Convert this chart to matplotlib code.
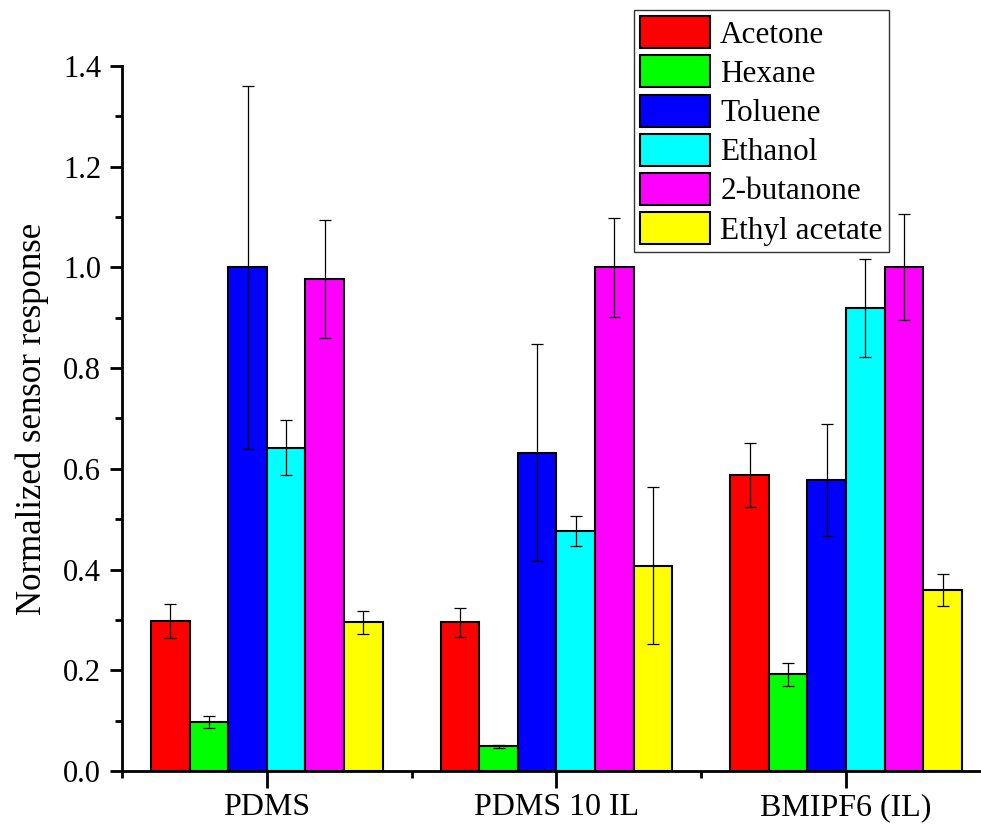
import numpy as np
import matplotlib
matplotlib.use("Agg")
import matplotlib.pyplot as plt
from matplotlib.ticker import MultipleLocator

plt.rcParams['font.family'] = ['Liberation Serif', 'DejaVu Serif']

categories = ["PDMS", "PDMS 10 IL", "BMIPF6 (IL)"]
solvents = ["Acetone", "Hexane", "Toluene", "Ethanol", "2-butanone", "Ethyl acetate"]
colors = ["#ff0000", "#00ff00", "#0000ff", "#00ffff", "#ff00ff", "#ffff00"]

acetone = [0.298, 0.295, 0.588]
hexane = [0.098, 0.049, 0.192]
toluene = [1.000, 0.632, 0.578]
ethanol = [0.642, 0.477, 0.920]
butanone = [0.977, 1.000, 1.000]
ethyl_acetate = [0.295, 0.408, 0.360]

acetone_err = [0.034, 0.029, 0.064]
hexane_err = [0.012, 0.003, 0.023]
toluene_err = [0.360, 0.215, 0.111]
ethanol_err = [0.054, 0.030, 0.097]
butanone_err = [0.118, 0.099, 0.105]
ethyl_acetate_err = [0.022, 0.155, 0.032]

values = [acetone, hexane, toluene, ethanol, butanone, ethyl_acetate]
errors = [acetone_err, hexane_err, toluene_err, ethanol_err, butanone_err, ethyl_acetate_err]

fig = plt.figure(figsize=(9.81, 8.24), dpi=100)
ax = fig.add_axes([0.1244, 0.0643, 0.8756, 0.8557])

x = np.arange(len(categories))
w = 0.8 / 6
handles = []
for i, (vals, errs, c, name) in enumerate(zip(values, errors, colors, solvents)):
    pos = x - 0.4 + w * (i + 0.5)
    b = ax.bar(pos, vals, width=w, color=c, edgecolor='black', linewidth=1.5, label=name, zorder=2)
    ax.errorbar(pos, vals, yerr=errs, fmt='none', ecolor='black', elinewidth=0.9,
                capsize=4.5, capthick=0.9, zorder=3)
    handles.append(b)

ax.set_xlim(-0.5, 2.466)
ax.set_ylim(0, 1.4)
ax.set_xticks(x)
ax.set_xticklabels(categories)
ax.xaxis.set_minor_locator(MultipleLocator(1.0, offset=0.5))
ax.yaxis.set_major_locator(MultipleLocator(0.2))
ax.yaxis.set_minor_locator(MultipleLocator(0.1))
ax.yaxis.set_major_formatter(matplotlib.ticker.FormatStrFormatter('%.1f'))

for s in ['top', 'right']:
    ax.spines[s].set_visible(False)
for s in ['left', 'bottom']:
    ax.spines[s].set_linewidth(2)

ax.tick_params(axis='both', which='major', direction='out', length=9, width=2, pad=6)
ax.tick_params(axis='y', which='major', labelsize=22)
ax.tick_params(axis='x', which='major', length=12, labelsize=23, pad=4)
ax.tick_params(axis='both', which='minor', direction='out', length=5, width=2)

ax.set_ylabel("Normalized sensor response", fontsize=25, labelpad=10)

leg = fig.legend(handles=handles, labels=solvents, loc='upper right',
                 bbox_to_anchor=(0.906, 0.988), fontsize=22.5, frameon=True,
                 fancybox=False, shadow=False, handlelength=2.24, handleheight=1.2,
                 labelspacing=0.18, handletextpad=0.32, borderpad=0.2, borderaxespad=0)
leg.get_frame().set_edgecolor('black')
leg.get_frame().set_linewidth(1.0)

fig.savefig("out.png", dpi=100)
